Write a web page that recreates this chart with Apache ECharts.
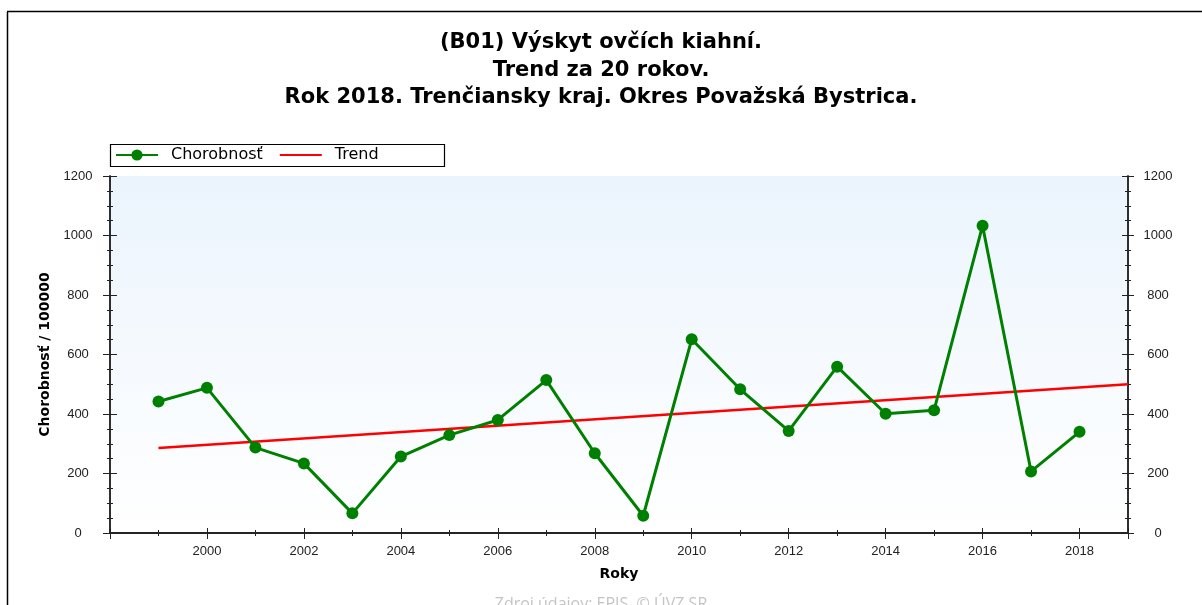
<!DOCTYPE html>
<html>
<head>
<meta charset="utf-8">
<script src="https://cdn.jsdelivr.net/npm/echarts@6/dist/echarts.min.js"></script>
<style>
  html, body { margin: 0; padding: 0; background: #fff; }
  #chart { width: 1202px; height: 605px; }
</style>
</head>
<body>
<div id="chart"></div>
<script>
// Chorobnosť / 100000 per year
const years = [1999, 2000, 2001, 2002, 2003, 2004, 2005, 2006, 2007, 2008,
               2009, 2010, 2011, 2012, 2013, 2014, 2015, 2016, 2017, 2018]
const incidence = [442, 488, 287, 234, 66, 257, 329, 380, 514, 268,
                   58, 651, 483, 343, 559, 401, 413, 1033, 207, 340]

// trend line end points
const trendYears = [1999, 2019]
const trendValues = [286, 500]

const titleLines = [
  "(B01) Výskyt ovčích kiahní.",
  "Trend za 20 rokov.",
  "Rok 2018. Trenčiansky kraj. Okres Považská Bystrica."
]
const sourceText = "Zdroj údajov: EPIS, © ÚVZ SR"

const font = "'Liberation Sans', Arial, sans-serif"
const wideFont = "'DejaVu Sans', sans-serif"
const axisColor = "#222"

const chart = echarts.init(document.getElementById("chart"), null, { renderer: "canvas" })

const grid = { left: 110, right: 74, top: 176, bottom: 72 }

// shared x axis base
const xBase = {
  type: "value",
  min: 1998,
  max: 2019,
  interval: 2,
  axisLine: { show: true, lineStyle: { color: axisColor, width: 1.5 } },
  splitLine: { show: false },
  minorTick: { show: true, splitNumber: 2, length: 3, lineStyle: { color: axisColor } },
  minorSplitLine: { show: false }
}

const yBase = {
  type: "value",
  min: 0,
  max: 1200,
  interval: 200,
  axisLine: { show: true, lineStyle: { color: axisColor, width: 1.5 } },
  splitLine: { show: false },
  minorTick: { show: true, splitNumber: 4, length: 3, lineStyle: { color: axisColor } },
  minorSplitLine: { show: false }
}

const option = {
  backgroundColor: "#fff",
  animation: false,
  textStyle: { fontFamily: font },

  title: {
    text: titleLines.join("\n"),
    left: "center",
    top: 29,
    padding: 0,
    textStyle: {
      fontFamily: wideFont,
      fontSize: 21,
      fontWeight: "bold",
      color: "#000",
      lineHeight: 27.5
    }
  },

  legend: {
    left: 115,
    top: 147,
    padding: 0,
    itemWidth: 42,
    itemHeight: 14,
    itemGap: 16,
    textStyle: { fontFamily: wideFont, fontSize: 16, color: "#000", padding: [0, 0, 0, 8] },
    data: [
      "Chorobnosť",
      { name: "Trend", itemStyle: { opacity: 0 } }
    ]
  },

  grid: grid,

  xAxis: [
    {
      ...xBase,
      position: "bottom",
      name: "Roky",
      nameLocation: "middle",
      nameGap: 34,
      nameTextStyle: { fontFamily: wideFont, fontSize: 14, fontWeight: "bold", color: "#000", verticalAlign: "top" },
      axisTick: { show: true, inside: false, length: 5, lineStyle: { color: axisColor } },
      axisLabel: {
        show: true,
        margin: 12,
        fontSize: 13,
        color: axisColor,
        showMinLabel: false,
        showMaxLabel: false,
        formatter: v => (v % 2 === 0 && v > 1998 && v < 2019 ? String(v) : "")
      }
    },
    {
      ...xBase,
      position: "bottom",
      axisTick: { show: true, inside: true, length: 5, lineStyle: { color: axisColor } },
      axisLabel: { show: false }
    },
    {
      ...xBase,
      position: "top",
      axisTick: { show: true, inside: true, length: 6, lineStyle: { color: axisColor } },
      axisLabel: { show: false }
    }
  ],

  yAxis: [
    {
      ...yBase,
      position: "left",
      name: "Chorobnosť / 100000",
      nameLocation: "middle",
      nameRotate: 90,
      nameGap: 58,
      nameTextStyle: { fontFamily: wideFont, fontSize: 14, fontWeight: "bold", color: "#000" },
      axisTick: { show: true, inside: false, length: 7, lineStyle: { color: axisColor } },
      axisLabel: { margin: 32, align: "center", fontSize: 13, color: axisColor, formatter: v => String(v) }
    },
    {
      ...yBase,
      position: "right",
      axisTick: { show: true, inside: false, length: 6, lineStyle: { color: axisColor } },
      axisLabel: { margin: 30, align: "center", fontSize: 13, color: axisColor, formatter: v => String(v) }
    },
    {
      ...yBase,
      position: "left",
      axisTick: { show: true, inside: true, length: 7, lineStyle: { color: axisColor } },
      axisLabel: { show: false }
    },
    {
      ...yBase,
      position: "right",
      axisTick: { show: true, inside: true, length: 6, lineStyle: { color: axisColor } },
      axisLabel: { show: false }
    }
  ],

  graphic: [
    // outer frame (left and top edges)
    { type: "line", shape: { x1: 7.5, y1: 12, x2: 7.5, y2: 605 }, style: { stroke: "#000", lineWidth: 1.5 } },
    { type: "line", shape: { x1: 7, y1: 11.5, x2: 1202, y2: 11.5 }, style: { stroke: "#000", lineWidth: 1.5 } },
    // plot background gradient
    {
      type: "rect",
      z: -10,
      shape: { x: grid.left, y: grid.top, width: 1202 - grid.left - grid.right, height: 605 - grid.top - grid.bottom },
      style: {
        fill: new echarts.graphic.LinearGradient(0, 0, 0, 1, [
          { offset: 0, color: "#ebf4fd" },
          { offset: 1, color: "#ffffff" }
        ])
      }
    },
    // legend box
    {
      type: "rect",
      z: -5,
      shape: { x: 110.5, y: 144.5, width: 334, height: 22 },
      style: { fill: "#fff", stroke: "#000", lineWidth: 1.2 }
    },
    // source line
    {
      type: "text",
      left: "center",
      top: 596,
      style: { text: sourceText, fontFamily: "'Open Sans', sans-serif", fontSize: 16, fill: "#c4c4c4" }
    }
  ],

  series: [
    {
      type: "line",
      name: "Chorobnosť",
      xAxisIndex: 0,
      yAxisIndex: 0,
      data: years.map((y, i) => [y, incidence[i]]),
      symbol: "circle",
      symbolSize: 12,
      itemStyle: { color: "#008000" },
      lineStyle: { color: "#008000", width: 3 },
      z: 5
    },
    {
      type: "line",
      name: "Trend",
      xAxisIndex: 0,
      yAxisIndex: 0,
      data: trendYears.map((y, i) => [y, trendValues[i]]),
      symbol: "none",
      itemStyle: { color: "#ff0000" },
      lineStyle: { color: "#ff0000", width: 2.5 },
      z: 4
    }
  ]
}

chart.setOption(option)
</script>
</body>
</html>
